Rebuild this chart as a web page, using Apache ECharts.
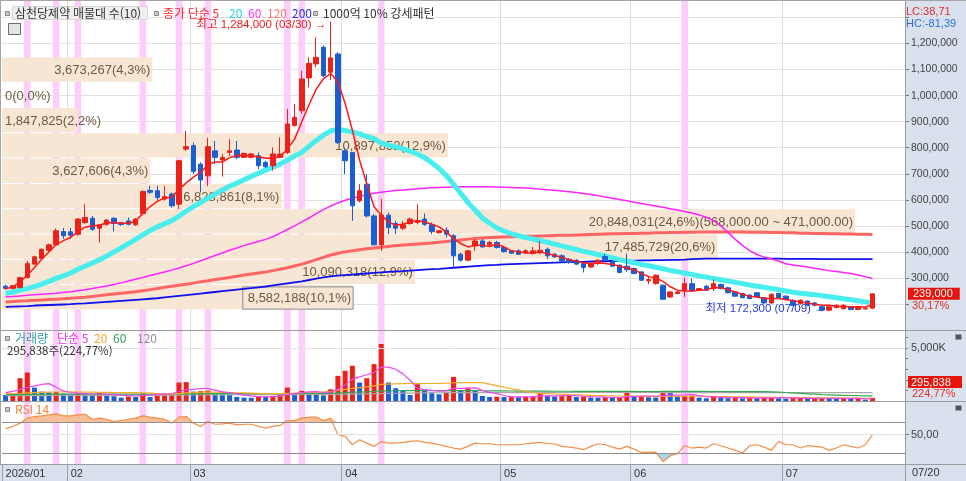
<!DOCTYPE html>
<html lang="ko">
<head>
<meta charset="utf-8">
<title>삼천당제약 매물대</title>
<script src="https://cdn.jsdelivr.net/npm/echarts@6.0.0/dist/echarts.min.js"></script>
<style>
html,body{margin:0;padding:0;background:#ffffff;}
#chart{width:966px;height:481px;}
</style>
</head>
<body>
<div id="chart"></div>
<script>
// ================= DATA (prices in 1,000 KRW, volumes in 1,000 shares) =================
const year = '2026';
const dates = [
'01/20','01/21','01/22','01/23','01/26','01/27','01/28','01/29','01/30',
'02/02','02/03','02/04','02/05','02/06','02/09','02/10','02/11','02/12','02/13','02/19','02/20','02/23','02/24','02/25','02/26','02/27',
'03/03','03/04','03/05','03/06','03/09','03/10','03/11','03/12','03/13','03/16','03/17','03/18','03/19','03/20','03/23','03/24','03/25','03/26','03/27','03/30','03/31',
'04/01','04/02','04/03','04/06','04/07','04/08','04/09','04/10','04/13','04/14','04/15','04/16','04/17','04/20','04/21','04/22','04/23','04/24','04/27','04/28','04/29','04/30',
'05/04','05/06','05/07','05/08','05/11','05/12','05/13','05/14','05/15','05/18','05/19','05/20','05/21','05/22','05/26','05/27','05/28','05/29',
'06/01','06/02','06/04','06/05','06/08','06/09','06/10','06/11','06/12','06/15','06/16','06/17','06/18','06/19','06/22','06/23','06/24','06/25','06/26','06/29','06/30',
'07/01','07/02','07/03','07/06','07/07','07/08','07/09','07/10','07/13','07/14','07/15','07/16','07/17'
];
const futureSlots = ['07/20','07/21','07/22','07/23'];

const opens = [
268,260,263,301,353,375,406,427,478,477,
468,513,529,491,506,529,512,519,504,547,
636,635,603,622,583,795,808,737,692,788,
753,782,791,763,763,769,744,731,763,782,
885,942,1068,1122,1186,1090,1160,788,782,596,
660,538,427,541,509,491,509,513,526,504,
474,483,462,391,368,423,442,427,436,417,
404,404,397,394,397,410,391,385,372,368,
355,342,355,382,362,349,345,336,323,289,
278,272,227,240,253,278,253,268,259,275,
262,246,240,234,243,224,204,240,230,214,
202,211,204,189,176,186,182,189,179,181,
184];
const closes = [
260,270,301,355,381,410,427,481,462,464,
526,532,487,504,522,509,505,506,526,632,
629,609,612,577,750,804,709,676,804,763,
763,788,763,778,776,731,727,776,776,891,
917,1064,1124,1147,1077,1145,820,750,577,635,
538,427,542,494,491,504,526,519,506,478,
481,468,385,368,404,442,419,436,417,401,
395,391,404,404,406,385,381,365,359,353,
340,356,368,370,345,321,332,317,291,294,
310,218,246,246,278,250,259,253,278,259,
243,230,224,221,227,204,237,224,217,195,
214,195,195,176,189,195,195,179,189,184,
239];
const lows = [
255,256,260,298,350,372,403,425,450,450,
462,508,480,436,500,478,500,502,500,540,
622,597,597,570,565,787,699,628,653,737,
689,769,756,760,760,718,722,712,760,776,
881,930,1032,1109,1071,1060,814,699,519,590,
532,427,404,468,468,484,504,506,500,468,
470,455,340,363,365,404,417,423,413,397,
392,388,392,390,391,372,376,360,354,350,
321,338,350,366,342,318,323,314,288,276,
275,217,224,237,227,246,250,250,250,256,
240,227,221,218,224,200,200,221,214,192,
198,192,191,174,172.3,183,179,176,176,178,
180];
const highs = [
275,273,305,365,385,413,432,490,492,492,
530,583,538,507,526,534,515,532,530,636,
654,654,654,628,752,865,820,744,838,826,
776,833,826,782,780,782,750,801,840,949,
968,1096,1147,1224,1192,1284,1167,801,782,660,
699,545,603,551,519,519,532,583,547,513,
484,494,468,397,406,449,449,442,442,423,
406,410,410,419,442,417,395,391,376,372,
359,359,372,392,368,352,393,340,326,304,
314,275,250,250,301,298,262,272,294,278,
266,250,243,237,246,227,240,243,234,218,
218,214,207,192,192,198,198,192,192,188,
239];

const ma5 = [
258,266,285,310,340,372,400,428,443,456,
478,495,500,502,512,513,510,510,518,548,
574,594,607,610,640,665,687,705,735,745,
745,762,770,771,768,765,760,760,765,795,
833,900,965,1025,1065,1085,1053,970,867,752,
662,573,541,515,502,506,515,521,515,506,
496,477,451,432,419,425,425,421,429,419,
404,400,396,397,400,393,387,378,370,365,
358,355,358,355,352,345,338,332,317,305,
300,287,266,253,250,250,253,255,263,262,
255,246,237,230,227,221,221,221,217,212,
208,204,199,195,195,191,189,189,189,188,
197];
const ma20 = [
240,246,253,259,267,276,287,298,308,319,
333,345,357,370,384,400,415,432,448,465,
482,496,508,520,537,556,574,590,606,622,
638,652,664,677,690,702,714,725,737,752,
768,782,805,828,848,865,870,866,861,853,
843,835,818,810,803,796,787,776,762,742,
720,693,660,625,590,560,530,510,492,480,
470,462,455,449,443,437,430,423,416,409,
402,396,390,384,377,370,364,358,352,347,
341,335,329,324,318,313,308,303,298,293,
288,283,278,273,268,264,259,255,250,245,
241,238,235,232,228,224,220,216,212,208,
205];
const ma60 = [
227,229,231,233,235,237,239,241,244,247,
251,255,259,264,269,275,281,288,295,302,
309,316,323,330,338,347,356,366,376,386,
396,406,415,424,432,440,448,458,472,486,
500,515,530,547,562,576,588,598,606,613,
620,625,629,633,636,638,640,642,644,646,
647,648,649,650,650,650,650,650,649,648,
647,646,645,643,641,639,637,634,631,628,
624,620,616,611,606,601,596,591,586,581,
576,571,566,561,555,549,542,533,520,500,
475,448,425,405,390,380,373,365,354,350,
346,342,337,332,328,325,321,317,311,305,
298];
const ma120 = [
208,209,211,212,214,215,217,218,220,222,
224,226,229,232,235,238,241,244,247,251,
255,259,264,268,272,276,280,285,289,294,
298,302,306,311,315,319,323,328,333,339,
346,353,361,370,379,388,395,400,404,408,
412,415,418,421,424,426,428,430,432,434,
437,440,443,446,449,451,453,455,456,457,
458,459,460,460,461,462,463,464,464,465,
466,467,468,469,470,470,471,471,472,472,
473,473,474,474,475,475,476,476,476,476,
476,476,476,475,475,475,474,474,473,473,
472,472,471,471,470,470,469,469,468,468,
467];
const ma200 = [
189,190,191,192,194,195,196,197,198,199,
201,202,204,206,208,210,212,214,216,218,
220,222,225,228,231,234,237,240,243,246,
249,252,255,258,261,264,267,271,275,279,
283,287,292,297,302,306,309,311,313,315,
317,319,321,323,325,326,328,330,332,334,
335,337,339,341,343,345,347,349,350,352,
353,354,355,356,357,358,359,360,361,362,
362,363,364,364,365,365,366,366,367,367,
368,368,369,369,370,372,373,374,374,374,
374,374,374,374,374,374,374,374,373,373,
373,373,373,372,372,372,372,372,372,372,
372];

const volumes = [
569,633,2151,2689,1265,886,822,854,696,633,
727,633,538,791,538,450,316,430,380,696,
380,530,560,600,1740,1780,886,949,980,650,
600,560,380,316,300,474,411,474,633,1265,
696,949,791,696,538,1107,2372,2847,3321,1740,
2151,3479,5377,1740,1202,949,569,1582,1107,791,
633,791,2277,1012,1265,949,474,380,410,370,
400,360,390,420,760,470,430,460,540,400,
420,330,320,350,300,340,760,430,460,350,
330,950,760,430,470,500,320,250,400,300,
260,320,250,300,270,330,340,260,220,280,
300,200,230,300,270,240,260,200,210,131.618,
295.838];
const volMa5 = [
790,900,1100,1300,1420,1560,1640,1300,950,800,
740,700,660,660,640,630,560,500,470,520,
560,620,640,680,900,1050,1100,1180,1180,1020,
860,800,700,560,480,410,380,400,460,640,
700,800,860,880,800,840,1100,1520,2040,2280,
2480,2700,3200,3200,3000,2560,1960,1200,1080,1000,
940,960,1200,1200,1200,1260,1000,820,700,520,
390,380,380,390,460,490,490,500,520,520,
450,420,400,360,340,330,420,440,460,470,
470,480,560,560,580,620,500,400,390,350,
310,310,310,290,280,290,300,300,290,290,
280,250,250,260,260,250,260,250,240,210,
210];
const volMa20 = [
700,710,730,760,790,810,830,850,860,860,
850,840,830,820,810,800,790,790,790,780,
740,700,650,640,700,760,790,830,850,840,
820,800,780,760,740,720,700,700,700,720,
740,780,810,840,870,920,1000,1100,1200,1270,
1330,1420,1560,1600,1620,1640,1650,1650,1650,1650,
1660,1680,1720,1730,1740,1740,1740,1600,1450,1300,
1150,1050,900,800,720,690,660,630,600,580,
560,540,520,500,490,470,460,450,440,430,
420,430,450,450,450,460,450,440,430,420,
410,400,390,380,370,360,350,340,330,320,
320,310,300,300,290,290,280,280,270,260,
260];
const volMa60 = [
600,600,610,620,630,630,640,640,640,640,
640,640,640,640,640,640,640,640,640,640,
650,650,650,650,660,670,670,680,690,690,
690,690,690,690,690,690,690,690,690,700,
700,705,710,715,720,730,760,790,830,850,
870,900,950,960,965,970,970,970,970,970,
970,970,970,970,970,970,965,960,955,950,
945,940,935,930,928,925,922,920,918,915,
912,910,908,905,903,900,900,900,898,896,
894,900,905,905,905,905,903,900,898,895,
893,890,888,885,883,880,870,850,800,760,
720,680,640,600,580,560,540,520,500,490,
480];
const volMa120 = [
500,502,505,508,512,515,518,520,522,525,
528,530,533,535,538,540,542,544,546,548,
550,552,555,558,562,566,570,574,578,582,
585,588,591,594,597,600,602,604,606,608,
610,612,614,616,618,622,630,640,652,664,
676,690,705,718,730,740,750,758,765,772,
778,782,786,790,792,794,795,796,797,797,
798,798,799,799,800,800,800,801,801,801,
802,802,802,802,802,801,801,801,800,800,
800,799,799,799,798,798,798,797,797,797,
796,796,796,795,795,795,794,794,794,793,
793,793,792,792,791,791,790,790,789,789,
788];

const rsi14 = [
59.6,63.4,68.8,77,79.6,80.7,82.3,84,80.7,80.7,
82.3,83.4,75.2,77,75.2,71.3,73,75.2,77,80.7,
78.6,77,75.2,68.8,78.6,79.6,68.8,63.4,71.3,67,
67.5,68.8,66,67,67,63.4,60.7,63.4,65,73,
73,77,78.6,78.6,73,77,50,47.1,33.5,41.7,
36.2,30.8,39,36.2,36.2,37.3,39,40,37.3,36.2,
33.5,30.8,28.1,26.4,30.8,36.2,35.1,35.1,33.5,33.5,
33.5,33.5,35.1,36.2,37.3,35.1,35.1,30.8,29.7,28.1,
25.4,30.8,35.1,33.5,29.7,26.4,30.8,26.4,21,21,
21.5,5.8,15.6,18.9,31.9,28.1,29.7,28.1,35.1,31.9,
28.1,24.3,20,31.9,33.5,29.7,24.3,39,33.5,33.5,
28.1,31.9,30.8,29.7,24.3,28.1,33.5,30.8,28.1,33.5,
50];

// "1000억 10% 강세패턴" signal days (candle indices)
const signalIdx = [3,7,10,19,24,28,39,41,52,94];

// 매물대 (volume profile), 10 price bands, top to bottom
const profileHigh = [1150,1053,956,859,762,665,568,471,374,277];
const profileLow  = [1053,956,859,762,665,568,471,374,277,180];
const profileVol  = [3673267,0,1847825,10897852,3627606,6828861,20848031,17485729,10090318,8582188];
const profilePct  = [4.3,0.0,2.2,12.9,4.3,8.1,24.6,20.6,12.9,10.1];

const rsiLevels = [70,50,20];
const textLC = 'LC:38,71', textHC = 'HC:-81,39';
const textLastPct = '30,17%';
const textLastVol = '295,838', textLastVolPct = '224,77%';
const textVolHead = '295,838주(224,77%)';
const textRightDate = '07/20';

// ================= BUILD =================
const FONT_KR = '"Noto Sans CJK KR", sans-serif';
const FONT_NUM = '"Liberation Sans", "Noto Sans CJK KR", sans-serif';
const LABEL_FONT = '13px "Liberation Sans", "Noto Sans CJK KR", sans-serif';
const UP = '#ea2219', DOWN = '#1b5ed2';
const fmt = v => Math.round(v).toLocaleString('en-US');

const cats = dates.concat(futureSlots);
const monthStart = {};
dates.forEach((d, i) => {
  const m = d.slice(0, 2);
  if (i === 0 || dates[i - 1].slice(0, 2) !== m) monthStart[i] = (i === 0 ? year + '/' + m : m);
});
const isMonthStart = (i) => Object.prototype.hasOwnProperty.call(monthStart, i);

const candleData = opens.map((o, i) => [o, closes[i], lows[i], highs[i]]);
let hiIdx = 0, loIdx = 0;
highs.forEach((h, i) => { if (h > highs[hiIdx]) hiIdx = i; });
lows.forEach((l, i) => { if (l < lows[loIdx]) loIdx = i; });
const lastClose = closes[closes.length - 1];

const maxProfile = Math.max.apply(null, profileVol);
const profileLabels = profileVol.map((v, i) => {
  let s = fmt(v) + '(' + profilePct[i].toFixed(1).replace('.', ',') + '%)';
  if (v === maxProfile) s += '(' + fmt(profileHigh[i] * 1000) + '.00 ~ ' + fmt(profileLow[i] * 1000) + '.00)';
  return s;
});
const currentBand = profileLow.findIndex((lo, i) => lastClose >= lo && lastClose < profileHigh[i]);

const measureCtx = document.createElement('canvas').getContext('2d');
measureCtx.font = LABEL_FONT;

function signalRender(params, api) {
  const cx = api.coord([api.value(0), api.value(1)])[0];
  const w = api.size([1, 0])[0];
  const cs = params.coordSys;
  return { type: 'rect', shape: { x: cx - w / 2 + 0.3, y: cs.y, width: w - 0.6, height: cs.height },
           style: { fill: '#fdcdfb' } };
}

function profileRender(params, api) {
  const i = params.dataIndex;
  const lo = api.value(0), hi = api.value(1), vol = api.value(2);
  const p0 = api.coord([0, hi]);
  const p1 = api.coord([vol, lo]);
  const x0 = p0[0], y0 = p0[1] + 1, w = p1[0] - p0[0], h = p1[1] - p0[1] - 1;
  const txt = profileLabels[i];
  const tw = measureCtx.measureText(txt).width;
  let tx = x0 + w - tw - 2;
  if (tx < x0 + 3) tx = x0 + 3;
  const kids = [];
  if (w > 0) kids.push({ type: 'rect', shape: { x: x0, y: y0, width: w, height: h }, style: { fill: '#f6e6d3' } });
  if (i === currentBand) kids.push({ type: 'rect', shape: { x: tx - 5, y: y0 + 2, width: x0 + w - tx + 5, height: h - 2 },
                                     style: { fill: '#f6e6d3', stroke: '#8c8c8c', lineWidth: 1 } });
  kids.push({ type: 'text', style: { text: txt, x: tx, y: y0 + h / 2 + 1, align: 'left', verticalAlign: 'middle',
                                     fill: '#6e5b3d', font: LABEL_FONT } });
  return { type: 'group', children: kids };
}

function catAxis(gridIndex, withLabels) {
  return {
    type: 'category', gridIndex: gridIndex, data: cats, boundaryGap: true,
    axisLine: { show: false },
    axisTick: withLabels ? { show: true, interval: (i) => isMonthStart(i), length: 17, lineStyle: { color: '#9aa1aa' } } : { show: false },
    axisLabel: withLabels ? { show: true, interval: (i) => isMonthStart(i), formatter: (v, i) => monthStart[i] || '',
                              align: 'left', color: '#333333', fontSize: 11, margin: 4, fontFamily: FONT_NUM } : { show: false },
    splitLine: { show: true, interval: (i) => isMonthStart(i) && i > 0, lineStyle: { color: '#dcdcdc', width: 1 } }
  };
}

const lineS = (name, data, xi, color, width, z) => ({
  type: 'line', name: name, data: data, xAxisIndex: xi, yAxisIndex: xi, symbol: 'none', silent: true,
  lineStyle: { color: color, width: width }, z: z
});

function T(text, x, y, color, size, family, extra) {
  return Object.assign({ type: 'text', x: x, y: y, z: 100, silent: true,
    style: { text: text, fill: color, font: size + 'px ' + (family || FONT_KR), verticalAlign: 'middle', align: 'left' } }, extra || {});
}
function L(x1, y1, x2, y2, color) {
  return { type: 'line', z: 90, silent: true, shape: { x1: x1, y1: y1, x2: x2, y2: y2 }, style: { stroke: color || '#9c9c9c', lineWidth: 1 } };
}
function R(x, y, w, h, fill, stroke, z) {
  return { type: 'rect', z: z === undefined ? 95 : z, silent: true, shape: { x: x, y: y, width: w, height: h },
           style: { fill: fill, stroke: stroke || null, lineWidth: 1 } };
}

const option = {
  animation: false,
  backgroundColor: '#ffffff',
  textStyle: { fontFamily: FONT_NUM },
  grid: [
    { left: 2, top: 0, width: 903, height: 330, containLabel: false, outerBoundsMode: 'none' },
    { left: 2, top: 330, width: 903, height: 71, containLabel: false, outerBoundsMode: 'none' },
    { left: 2, top: 401, width: 903, height: 63, containLabel: false, outerBoundsMode: 'none' },
    { left: 2, top: 0, width: 903, height: 330, containLabel: false, outerBoundsMode: 'none' }
  ],
  xAxis: [
    catAxis(0, false), catAxis(1, false), catAxis(2, true),
    { type: 'value', gridIndex: 3, min: 0, max: 22070000, show: false }
  ],
  yAxis: [
    { type: 'value', gridIndex: 0, position: 'right', min: 100, max: 1367.3, interval: 100,
      axisLine: { show: true, lineStyle: { color: '#9c9c9c' } },
      axisTick: { show: true, length: 4, lineStyle: { color: '#777' } },
      axisLabel: { formatter: v => (v >= 300 && v <= 1200) ? fmt(v * 1000) : '', color: '#444444', fontSize: 10.5, margin: 6, fontFamily: FONT_NUM },
      splitLine: { show: true, lineStyle: { color: '#e1e1e1' } } },
    { type: 'value', gridIndex: 1, position: 'right', min: 0, max: 6700, interval: 1000,
      axisLine: { show: true, lineStyle: { color: '#9c9c9c' } },
      axisTick: { show: true, length: 3, lineStyle: { color: '#777' } },
      axisLabel: { formatter: v => v === 5000 ? fmt(v) + 'K' : '', color: '#444444', fontSize: 11, margin: 6, fontFamily: FONT_NUM },
      splitLine: { show: false } },
    { type: 'value', gridIndex: 2, position: 'right', min: 2, max: 105,
      axisLine: { show: true, lineStyle: { color: '#9c9c9c' } },
      axisTick: { show: true, length: 4, customValues: [50], lineStyle: { color: '#777' } },
      axisLabel: { customValues: [50], formatter: v => v === 50 ? '50,00' : '', color: '#444444', fontSize: 11, margin: 6, fontFamily: FONT_NUM },
      splitLine: { show: false } },
    { type: 'value', gridIndex: 3, min: 100, max: 1367.3, show: false }
  ],
  series: [
    // ---- price panel ----
    { type: 'custom', name: 'signalPrice', xAxisIndex: 0, yAxisIndex: 0, renderItem: signalRender,
      data: signalIdx.map(i => [i, 200]), z: 1, silent: true, clip: false },
    { type: 'custom', name: 'profile', xAxisIndex: 3, yAxisIndex: 3, renderItem: profileRender,
      data: profileLow.map((lo, i) => [lo, profileHigh[i], profileVol[i]]), encode: { x: 2, y: [0, 1] }, z: 2, silent: true, clip: false },
    lineS('MA200', ma200, 0, '#1010ee', 1.8, 3),
    lineS('MA120', ma120, 0, '#ff6565', 3, 3),
    lineS('MA60', ma60, 0, '#ff24ff', 1.5, 3),
    lineS('MA20', ma20, 0, '#48eeee', 5, 3),
    { type: 'candlestick', name: '종가', data: candleData, xAxisIndex: 0, yAxisIndex: 0, barWidth: 5, z: 4, silent: true,
      itemStyle: { color: UP, color0: DOWN, borderColor: UP, borderColor0: DOWN, borderWidth: 1 },
      markPoint: { symbol: 'circle', symbolSize: 1, itemStyle: { color: 'rgba(0,0,0,0)' }, silent: true,
        data: [
          { coord: [dates[hiIdx], highs[hiIdx]],
            label: { show: true, position: 'left', distance: 4, offset: [0, 3], color: '#ee1d17', fontSize: 11.5, fontFamily: FONT_NUM,
                     formatter: '최고 ' + fmt(highs[hiIdx] * 1000) + ' (' + dates[hiIdx] + ') →' } },
          { coord: [dates[loIdx], lows[loIdx]],
            label: { show: true, position: 'left', distance: 3, offset: [0, -2], color: '#2a3cd2', fontSize: 11.5, fontFamily: FONT_NUM,
                     formatter: '최저 ' + fmt(lows[loIdx] * 1000) + ' (' + dates[loIdx] + ') →' } }
        ] },
      markLine: { silent: true, symbol: ['none', 'none'], lineStyle: { color: 'rgba(0,0,0,0)', width: 0 },
        data: [{ yAxis: lastClose }],
        label: { show: true, position: 'end', distance: 3, formatter: fmt(lastClose * 1000), color: '#ffffff',
                 backgroundColor: '#e8150d', padding: [1, 7, 0, 5], fontSize: 11, fontFamily: FONT_NUM } } },
    lineS('MA5', ma5, 0, '#ff1a1a', 1.5, 5),

    // ---- volume panel ----
    { type: 'custom', name: 'signalVol', xAxisIndex: 1, yAxisIndex: 1, renderItem: signalRender,
      data: signalIdx.map(i => [i, 0]), z: 1, silent: true, clip: false },
    { type: 'bar', name: '거래량', xAxisIndex: 1, yAxisIndex: 1, barWidth: 5, z: 3, silent: true,
      data: volumes.map((v, i) => ({ value: v, itemStyle: { color: (i > 0 && v > volumes[i - 1]) ? UP : DOWN } })),
      markLine: { silent: true, symbol: ['none', 'none'], label: { show: false },
                  lineStyle: { color: '#e2e2e2', width: 1, type: 'solid' }, data: [{ yAxis: 5000 }] } },
    lineS('vMA120', volMa120, 1, '#a8a8a8', 1.2, 4),
    lineS('vMA60', volMa60, 1, '#34a654', 1.2, 4),
    lineS('vMA20', volMa20, 1, '#f6ad2a', 1.2, 4),
    lineS('vMA5', volMa5, 1, '#ee45ee', 1.2, 4),

    // ---- RSI panel ----
    { type: 'custom', name: 'signalRsi', xAxisIndex: 2, yAxisIndex: 2, renderItem: signalRender,
      data: signalIdx.map(i => [i, 50]), z: 1, silent: true, clip: false },
    { type: 'line', name: 'rsiHigh', xAxisIndex: 2, yAxisIndex: 2, symbol: 'none', silent: true, z: 2,
      data: rsi14.map(v => Math.max(v, rsiLevels[0])), lineStyle: { width: 0 },
      areaStyle: { origin: rsiLevels[0], color: '#f7bf98', opacity: 1 } },
    { type: 'line', name: 'rsiLow', xAxisIndex: 2, yAxisIndex: 2, symbol: 'none', silent: true, z: 2,
      data: rsi14.map(v => Math.min(v, rsiLevels[2])), lineStyle: { width: 0 },
      areaStyle: { origin: rsiLevels[2], color: '#a5d7ee', opacity: 1 } },
    { type: 'line', name: 'RSI 14', xAxisIndex: 2, yAxisIndex: 2, symbol: 'none', silent: true, z: 3,
      data: rsi14, lineStyle: { color: '#f58e45', width: 1.2 },
      markLine: { silent: true, symbol: ['none', 'none'], label: { show: false },
        data: [
          { yAxis: rsiLevels[0], lineStyle: { color: '#8e8e8e', width: 1, type: 'solid' } },
          { yAxis: rsiLevels[1], lineStyle: { color: '#e3e3e3', width: 1, type: 'solid' } },
          { yAxis: rsiLevels[2], lineStyle: { color: '#8e8e8e', width: 1, type: 'solid' } }
        ] } }
  ],
  graphic: [
    // backgrounds of the axis areas
    R(905, 0, 61, 481, '#d8e1ed', null, -1),
    R(0, 464, 905, 17, '#d8e1ed', null, -1),
    // frame / separators
    L(0, 0.5, 966, 0.5, '#a5a5a5'),
    L(0.5, 0, 0.5, 464, '#a5a5a5'),
    L(905.5, 0, 905.5, 481, '#9c9c9c'),
    L(0, 330.5, 966, 330.5, '#9c9c9c'),
    L(0, 401.5, 966, 401.5, '#9c9c9c'),
    L(0, 464.5, 966, 464.5, '#9c9c9c'),
    // price panel header
    R(12.5, 6.5, 135, 13, '#efefef', '#d6d6d6', 96),
    R(5.5, 11.5, 4, 4, '#c8c8c8', '#8a8a8a'),
    T('삼천당제약 매물대 수(10)', 15, 13.5, '#333333', 12),
    R(154.5, 11.5, 4, 4, '#c8c8c8', '#8a8a8a'),
    T('종가 단순 5', 163, 13.5, '#ff2a2a', 12),
    T('20', 229, 13.5, '#22d6ee', 12),
    T('60', 248, 13.5, '#ff30ff', 12),
    T('120', 267, 13.5, '#ff7676', 12),
    T('200', 292, 13.5, '#2a2aff', 12),
    R(313.5, 11.5, 4, 4, '#c8c8c8', '#8a8a8a'),
    T('1000억 10% 강세패턴', 323, 13.5, '#333333', 12),
    R(8.5, 23.5, 12, 11, '#e4e4e4', '#6a6a6a'),
    L(9, 27.5, 20, 27.5, '#8a8a8a'), L(9, 31, 20, 31, '#8a8a8a'), L(12.5, 24, 12.5, 34, '#8a8a8a'), L(16.5, 24, 16.5, 34, '#8a8a8a'),
    // volume panel header
    R(5.5, 336.5, 4, 4, '#c8c8c8', '#8a8a8a'),
    T('거래량', 15, 338.5, '#2e9ea3', 12),
    T('단순 5', 57, 338.5, '#e43ae4', 12),
    T('20', 94, 338.5, '#f3a424', 12),
    T('60', 113, 338.5, '#37a553', 12),
    T('120', 137, 338.5, '#8f8f8f', 12),
    T(textVolHead, 7, 351, '#333333', 11.5),
    // RSI header
    R(5.5, 407.5, 4, 4, '#c8c8c8', '#8a8a8a'),
    T('RSI 14', 15, 409.5, '#f0853a', 12),
    // right column texts
    T(textLC, 906, 12, '#e2302a', 11, FONT_NUM),
    T(textHC, 906, 23.5, '#2f6fd0', 11, FONT_NUM),
    T(textLastPct, 912, 305.5, '#e2302a', 11, FONT_NUM),
    R(908, 376, 54, 12, '#e8150d', null, 96),
    T(textLastVol, 911, 382.5, '#ffffff', 11, FONT_NUM),
    T(textLastVolPct, 912, 393.5, '#e2302a', 11, FONT_NUM),
    T(textRightDate, 912, 472.5, '#333333', 11, FONT_NUM),
    R(955.5, 334.5, 6, 5, '#555555', null, 96),
    R(955.5, 405.5, 6, 5, '#555555', null, 96)
  ]
};

const chart = echarts.init(document.getElementById('chart'), null, { renderer: 'canvas', width: 966, height: 481 });
chart.setOption(option);
</script>
</body>
</html>
